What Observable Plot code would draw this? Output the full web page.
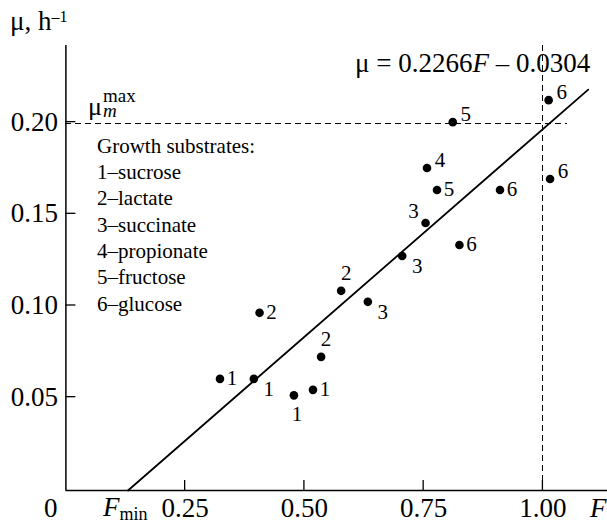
<!DOCTYPE html>
<html><head><meta charset="utf-8">
<script src="https://cdn.jsdelivr.net/npm/d3@7"></script>
<script src="https://cdn.jsdelivr.net/npm/@observablehq/plot@0.6"></script>
<style>html,body{margin:0;padding:0;background:#fff;} svg{display:block}</style>
</head><body><div id="chart"></div>
<script>
// ---- data ----
const substrates = ["sucrose", "lactate", "succinate", "propionate", "fructose", "glucose"];
const pointF  = [0.323, 0.394, 0.478, 0.518, 0.406, 0.535, 0.577, 0.633, 0.705, 0.754, 0.757, 0.778, 0.811, 0.910, 0.825, 1.015, 1.012];
const pointMu = [0.060, 0.060, 0.051, 0.054, 0.096, 0.072, 0.108, 0.102, 0.127, 0.145, 0.175, 0.163, 0.200, 0.163, 0.133, 0.169, 0.212];
const pointSubstrate = [1, 1, 1, 1, 2, 2, 2, 3, 3, 3, 4, 5, 5, 6, 6, 6, 6];
const labelPlace = ["r", "lr", "b", "r", "r", "a", "a", "lr", "lr", "ul", "ur", "r", "ur", "r", "r", "ur", "ur"];
const xTicks = [0.25, 0.50, 0.75, 1.00];
const yTicks = [0.05, 0.10, 0.15, 0.20];
const fitSlope = 0.2266;
const fitIntercept = -0.0304;
const fitEndF = 1.095;
const muMaxLevel = 0.1995;
const fMaxLevel = 1.0;

// ---- layout ----
const FONT = "'Liberation Serif', 'Times New Roman', serif";
const W = 607, H = 524;
const mL = 65.4, mR = 0, mT = 45, mB = 34;
const xDom = [0, 1.1354];
const yDom = [-0.0009, 0.2418];
const yMin = yDom[0], yTop = yDom[1];
const TICK = 10; // px, inward

const points = pointF.map((F, i) => ({F, mu: pointMu[i], id: pointSubstrate[i], place: labelPlace[i]}));
const fMin = -fitIntercept / fitSlope;
const fStart = (yMin - fitIntercept) / fitSlope;
const fitLine = [fStart, fitEndF].map(F => ({F, mu: fitSlope * F + fitIntercept}));

const placeOffsets = {r: [12, -1], lr: [15, 10], b: [3, 19], a: [5, -18], ul: [-12, -12], ur: [13, -8]};

// inward tick marks drawn through the scales
const inwardTicks = (index, scales) => {
  const {x, y} = scales;
  const g = d3.create("svg:g").attr("stroke", "black").attr("stroke-width", 1.3);
  for (const t of xTicks) g.append("line").attr("x1", x(t)).attr("x2", x(t)).attr("y1", y(yMin)).attr("y2", y(yMin) - TICK);
  for (const t of yTicks) g.append("line").attr("x1", x(0)).attr("x2", x(0) + TICK).attr("y1", y(t)).attr("y2", y(t));
  return g.node();
};

// rich text (tspans) positioned through the scales
function richText(items) {
  return (index, scales) => {
    const {x, y} = scales;
    const g = d3.create("svg:g").attr("font-family", FONT).attr("fill", "black");
    for (const it of items) {
      const px = x(it.x) + (it.dx || 0), py = y(it.y) + (it.dy || 0);
      const t = g.append("text").attr("x", px).attr("y", py)
        .attr("font-size", it.size).attr("text-anchor", it.anchor || "start");
      for (const p of it.parts) {
        const s = t.append("tspan").text(p.t);
        if (p.italic) s.attr("font-style", "italic");
        if (p.size) s.attr("font-size", p.size);
        if (p.dy) s.attr("dy", p.dy);
        if (p.xoff != null) s.attr("x", px + p.xoff);
      }
    }
    return g.node();
  };
}

const eqText = [
  {t: `μ = ${fitSlope.toFixed(4)}`},
  {t: "F", italic: true},
  {t: ` – ${Math.abs(fitIntercept).toFixed(4)}`}
];

const legendItems = [{x: 0, y: muMaxLevel, dx: 31.6, dy: 30.3, size: 21, parts: [{t: "Growth substrates:"}]}]
  .concat(substrates.map((s, i) => ({x: 0, y: muMaxLevel, dx: 31.6, dy: 30.3 + (i + 1) * 26.3, size: 21, parts: [{t: `${i + 1}–${s}`}]})));

const annotations = richText([
  // y-axis title
  {x: 0, y: yTop, dx: -55.4, dy: -15, size: 27, parts: [{t: "μ, h"}, {t: "–1", size: 16, dy: -8}]},
  // mu_m^max
  {x: 0, y: muMaxLevel, dx: 22.6, dy: -8, size: 26, parts: [{t: "μ"}, {t: "max", size: 19, dy: -13, xoff: 15}, {t: "m", size: 19, italic: true, dy: 15, xoff: 15}]},
  // equation
  {x: 0.6073, y: yTop, dx: 0, dy: 27, size: 27, parts: eqText},
  // origin 0
  {x: 0, y: yMin, dx: -14.6, dy: 26.7, size: 27, anchor: "middle", parts: [{t: "0"}]},
  // F_min
  {x: fMin, y: yMin, dx: -26.4, dy: 26.2, size: 27, parts: [{t: "F", italic: true}, {t: "min", size: 18, dy: 4}]},
  // F axis label
  {x: fMaxLevel, y: yMin, dx: 47.6, dy: 26.7, size: 27, parts: [{t: "F", italic: true}]},
  ...legendItems
]);

const labelMarks = Object.entries(placeOffsets).map(([key, [dx, dy]]) =>
  Plot.text(points.filter(p => p.place === key), {
    x: "F", y: "mu", text: d => String(d.id), dx, dy,
    fontSize: 21, fontFamily: FONT, fill: "black", lineAnchor: "middle", textAnchor: "middle"
  })
);

const chart = Plot.plot({
  width: W, height: H,
  marginLeft: mL, marginRight: mR, marginTop: mT, marginBottom: mB,
  x: {domain: xDom, label: null},
  y: {domain: yDom, label: null},
  style: {fontFamily: FONT, fontSize: "27px", color: "black", background: "white"},
  marks: [
    Plot.ruleY([muMaxLevel], {x1: 0, x2: 1.051, stroke: "black", strokeWidth: 1, strokeDasharray: "5.5,4.5", shapeRendering: "crispEdges"}),
    Plot.ruleX([fMaxLevel], {stroke: "black", strokeWidth: 1, strokeDasharray: "5.5,4.5", shapeRendering: "crispEdges"}),
    Plot.ruleX([0], {stroke: "black", strokeWidth: 1.5}),
    Plot.ruleY([yMin], {stroke: "black", strokeWidth: 1.5}),
    inwardTicks,
    Plot.axisX(xTicks, {tickSize: 0, tickPadding: 7.5, tickFormat: d => d.toFixed(2), fontSize: 27, label: null}),
    Plot.axisY(yTicks, {tickSize: 0, tickPadding: 8, tickFormat: d => d.toFixed(2), fontSize: 27, label: null}),
    Plot.line(fitLine, {x: "F", y: "mu", stroke: "black", strokeWidth: 1.8}),
    Plot.dot(points, {x: "F", y: "mu", r: 4.3, fill: "black", stroke: "none"}),
    ...labelMarks,
    annotations
  ]
});
document.getElementById("chart").append(chart);
</script></body></html>
